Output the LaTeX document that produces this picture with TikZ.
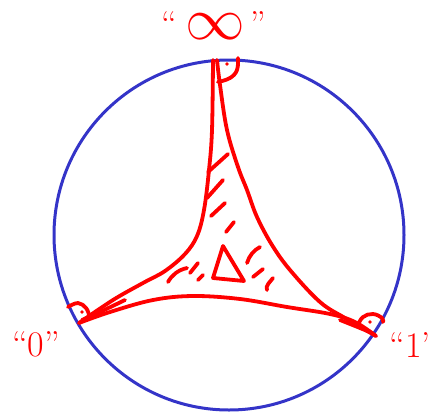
\documentclass[tikz,border=0pt]{standalone}
\usepackage{fontspec}
\usepackage{graphicx}
\definecolor{circblue}{RGB}{52,52,200}
\definecolor{ink}{RGB}{255,0,0}
\begin{document}
\begin{tikzpicture}[x=1pt,y=-1pt,
  redline/.style={draw=ink,line width=3.8pt,line cap=round,line join=round},
  bluecirc/.style={draw=circblue,line width=3pt},
  lbl/.style={text=ink,font=\fontsize{36}{36}\selectfont,inner sep=0pt,anchor=base}]
\useasboundingbox (0,0) rectangle (434,416);
% disk
\draw[bluecirc] (229,235) circle (175);
% cusps
\coordinate (top) at (214,60);
\coordinate (left) at (79,323);
\coordinate (right) at (376,336);
% left side of top cusp
\draw[redline] plot[smooth,tension=0.6] coordinates {(213,60) (212,130) (209,170) (204,210) (197,236) (185,254) (165,271) (143,283) (113,300) (79,323)};
% right side of top cusp
\draw[redline] plot[smooth,tension=0.6] coordinates {(217,60) (220,85) (227,130) (238,167) (247,190) (257,217) (272,245) (290,270) (320,302) (345,318) (376,336)};
% bottom side
\draw[redline] plot[smooth,tension=0.6] coordinates {(79,323) (110,312) (153,300) (193,296) (240,299) (287,307) (330,314) (355,322) (376,336)};
% extra strokes near cusps
\draw[redline] plot[smooth,tension=0.6] coordinates {(82,320) (100,312) (125,300)};
\draw[redline] plot[smooth,tension=0.6] coordinates {(340,320) (360,328) (372,333)};
% angle marks
\draw[redline] plot[smooth,tension=0.7] coordinates {(218,82) (230,78) (237,70) (238,58)};
\fill[ink] (227,64) circle (1.8);
\draw[redline] plot[smooth,tension=0.7] coordinates {(68,307) (78,303) (86,308) (89,315)};
\fill[ink] (82,312) circle (1.8);
\draw[redline] plot[smooth,tension=0.7] coordinates {(358,325) (363,317) (373,314) (382,318) (383,322)};
\fill[ink] (370,322) circle (1.8);
% hatching
\draw[redline] (208,172) -- (228,154);
\draw[redline] (207,198) -- (223,180);
\draw[redline] (211,216) -- (225,203);
\draw[redline] (226,232) -- (234,222);
\draw[redline] (168,282) .. controls (172,275) and (178,270) .. (187,268);
\draw[redline] (190,273) -- (198,263);
\draw[redline] (198,280) -- (203,275);
\draw[redline] (247,263) .. controls (249,256) and (254,250) .. (260,247);
\draw[redline] (253,277) -- (263,269);
\draw[redline] (267,290) .. controls (265,286) and (270,282) .. (273,278);
% Delta
\draw[redline] (223,246) -- (213,278) -- (244,281) -- cycle;
% labels
\node[lbl] (linf) at (214,36) {``\hspace{8pt}\raisebox{-3pt}{\scalebox{2.4}{$\infty$}}\hspace{6pt}''};
\node[lbl] (lzero) at (36,356) {``0''};
\node[lbl] (lone) at (410,357) {``1'};
\end{tikzpicture}
\end{document}
